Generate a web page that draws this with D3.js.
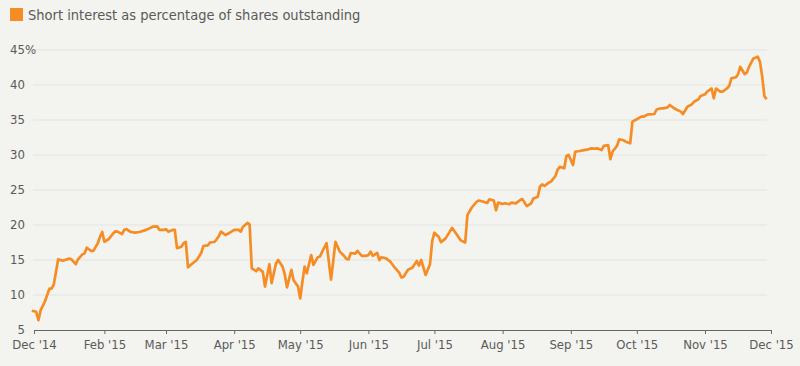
<!DOCTYPE html>
<html lang="en">
<head>
    <meta charset="UTF-8">
    <title>Short interest</title>
    <script src="https://cdn.jsdelivr.net/npm/d3@7"></script>
    <style>
        body { margin: 0; background: #f3f3ef; }
        svg text { font-family: "DejaVu Sans Condensed", "DejaVu Sans", sans-serif; fill: #5a5a5a; }
        .grid line { stroke: #e3e3df; stroke-width: 1px; }
        .x-axis path, .x-axis line { stroke: #666; }
    </style>
</head>
<body>
    <svg id="chart" width="800" height="366"></svg>
    <script>
        var seriesName = "Short interest as percentage of shares outstanding";

        var dates = [
            "2014-12-30","2015-01-01","2015-01-02","2015-01-03","2015-01-05","2015-01-07","2015-01-08","2015-01-09","2015-01-11","2015-01-13","2015-01-14","2015-01-16","2015-01-17","2015-01-19","2015-01-20","2015-01-22","2015-01-23","2015-01-24","2015-01-26","2015-01-27","2015-01-29","2015-01-30","2015-01-31",
            "2015-02-01","2015-02-03","2015-02-05","2015-02-06","2015-02-07","2015-02-09","2015-02-10","2015-02-11","2015-02-13","2015-02-15","2015-02-17","2015-02-20","2015-02-22","2015-02-23","2015-02-25","2015-02-26","2015-02-28",
            "2015-03-01","2015-03-02","2015-03-04","2015-03-05","2015-03-06","2015-03-08","2015-03-09","2015-03-10","2015-03-11","2015-03-13","2015-03-15","2015-03-17","2015-03-18","2015-03-20","2015-03-21","2015-03-23","2015-03-24","2015-03-25","2015-03-26","2015-03-28","2015-03-30",
            "2015-04-01","2015-04-03","2015-04-04","2015-04-05","2015-04-07","2015-04-08","2015-04-09","2015-04-11","2015-04-12","2015-04-14","2015-04-15","2015-04-17","2015-04-18","2015-04-20","2015-04-21","2015-04-23","2015-04-24","2015-04-25","2015-04-27","2015-04-28","2015-04-30",
            "2015-05-01","2015-05-02","2015-05-03","2015-05-04","2015-05-06","2015-05-07","2015-05-09","2015-05-10","2015-05-11","2015-05-13","2015-05-15","2015-05-16","2015-05-17","2015-05-19","2015-05-21","2015-05-22","2015-05-23","2015-05-24","2015-05-26","2015-05-27","2015-05-29","2015-05-31",
            "2015-06-01","2015-06-02","2015-06-03","2015-06-05","2015-06-06","2015-06-07","2015-06-09","2015-06-11","2015-06-13","2015-06-15","2015-06-16","2015-06-17","2015-06-19","2015-06-21","2015-06-23","2015-06-24","2015-06-25","2015-06-27","2015-06-29","2015-06-30",
            "2015-07-01","2015-07-03","2015-07-04","2015-07-06","2015-07-08","2015-07-09","2015-07-11","2015-07-13","2015-07-15","2015-07-16","2015-07-18","2015-07-20","2015-07-21","2015-07-23","2015-07-25","2015-07-26","2015-07-28","2015-07-29","2015-07-30",
            "2015-08-01","2015-08-02","2015-08-04","2015-08-05","2015-08-07","2015-08-09","2015-08-10","2015-08-12","2015-08-14","2015-08-15","2015-08-17","2015-08-18","2015-08-19","2015-08-20","2015-08-22","2015-08-23","2015-08-25","2015-08-26","2015-08-27","2015-08-29","2015-08-30","2015-08-31",
            "2015-09-02","2015-09-03","2015-09-05","2015-09-07","2015-09-09","2015-09-10","2015-09-12","2015-09-13","2015-09-15","2015-09-16","2015-09-18","2015-09-19","2015-09-20","2015-09-22","2015-09-23","2015-09-25","2015-09-26","2015-09-28","2015-09-29",
            "2015-10-01","2015-10-03","2015-10-04","2015-10-06","2015-10-07","2015-10-09","2015-10-10","2015-10-12","2015-10-13","2015-10-15","2015-10-16","2015-10-18","2015-10-19","2015-10-21","2015-10-22","2015-10-24","2015-10-26","2015-10-27","2015-10-29","2015-10-30",
            "2015-11-01","2015-11-02","2015-11-04","2015-11-05","2015-11-06","2015-11-08","2015-11-09","2015-11-11","2015-11-12","2015-11-13","2015-11-15","2015-11-16","2015-11-17","2015-11-19","2015-11-20","2015-11-21","2015-11-23","2015-11-25","2015-11-26","2015-11-27","2015-11-28","2015-11-29"
        ];

        var shortInterest = [
            7.75, 7.6, 6.4, 7.8, 9.1, 10.9, 10.9, 11.5, 15.1, 14.9, 15.0, 15.2, 15.1, 14.4, 15.1, 15.8, 15.95, 16.75, 16.3, 16.3, 17.4, 18.3, 19.0,
            17.6, 18.0, 18.8, 19.1, 19.05, 18.7, 19.3, 19.4, 19.0, 18.9, 19.0, 19.3, 19.6, 19.76, 19.8, 19.3, 19.3,
            19.4, 19.05, 19.3, 19.3, 16.7, 16.9, 17.4, 17.6, 13.96, 14.5, 15.0, 16.0, 17.0, 17.1, 17.5, 17.57, 17.96, 18.4, 19.05, 18.57, 18.9,
            19.3, 19.3, 19.05, 19.76, 20.3, 20.1, 13.8, 13.4, 13.8, 13.3, 11.2, 14.4, 11.7, 14.5, 15.0, 14.05, 12.9, 11.1, 13.6, 12.1, 11.2,
            9.5, 11.9, 14.05, 13.1, 15.7, 14.3, 15.4, 15.5, 16.2, 17.4, 12.2, 14.76, 17.6, 16.2, 15.57, 15.14, 15.1, 16.0, 15.9, 16.3, 15.6, 15.6,
            15.7, 16.2, 15.6, 16.0, 15.0, 15.4, 15.24, 14.76, 13.9, 13.2, 12.5, 12.6, 13.6, 13.9, 14.86, 14.2, 15.0, 12.86, 14.4, 17.7,
            18.9, 18.3, 17.55, 18.05, 19.05, 19.6, 18.7, 17.8, 17.5, 21.4, 22.5, 23.25, 23.5, 23.36, 23.15, 23.67, 23.5, 22.1, 23.2,
            23.0, 23.1, 22.96, 23.2, 23.1, 23.57, 23.7, 22.7, 23.1, 23.8, 24.05, 25.5, 25.8, 25.57, 26.05, 26.2, 27.0, 27.9, 28.3, 28.1, 29.86, 30.0,
            28.57, 30.47, 30.57, 30.7, 30.8, 30.95, 30.9, 30.95, 30.7, 31.3, 31.4, 29.4, 30.5, 31.3, 32.24, 32.1, 31.9, 31.67, 34.76,
            35.1, 35.47, 35.47, 35.8, 35.8, 35.86, 36.5, 36.67, 36.67, 36.8, 37.14, 36.67, 36.5, 36.2, 35.86, 36.9, 37.24, 37.6, 37.95, 38.43,
            38.67, 39.05, 39.5, 38.1, 39.5, 39.05, 39.05, 39.5, 39.86, 40.95, 41.1, 41.5, 42.6, 41.57, 41.76, 42.6, 43.8, 44.05, 43.3, 41.2, 38.4, 37.95
        ];

        var xTicks = ["2014-12-31","2015-02-01","2015-03-01","2015-04-01","2015-05-01","2015-06-01",
                      "2015-07-01","2015-08-01","2015-09-01","2015-10-01","2015-11-01","2015-12-01"];
        var yTicks = [5, 10, 15, 20, 25, 30, 35, 40, 45];

        var orange = "#f58d24";
        var parse = d3.timeParse("%Y-%m-%d");

        var data = dates.map(function(d, i) {
            return { date: parse(d), value: shortInterest[i] };
        });

        var svg = d3.select("#chart");

        var x = d3.scaleTime()
            .domain([parse(xTicks[0]), parse(xTicks[xTicks.length - 1])])
            .range([34, 771]);
        var y = d3.scaleLinear()
            .domain([yTicks[0], yTicks[yTicks.length - 1]])
            .range([330, 50]);

        // legend
        svg.append("rect")
            .attr("x", 10).attr("y", 8)
            .attr("width", 13).attr("height", 13)
            .attr("fill", orange);
        svg.append("text")
            .attr("x", 28).attr("y", 20)
            .attr("font-size", 14.5)
            .text(seriesName);

        // horizontal grid
        svg.append("g")
            .attr("class", "grid")
            .selectAll("line")
            .data(yTicks.slice(1))
            .enter()
            .append("line")
            .attr("x1", 33).attr("x2", 767)
            .attr("y1", function(d) { return y(d); })
            .attr("y2", function(d) { return y(d); });

        // y labels
        var yl = svg.append("g").attr("class", "y-labels");
        yl.selectAll("text")
            .data(yTicks)
            .enter()
            .append("text")
            .attr("x", 25)
            .attr("y", function(d) { return y(d); })
            .attr("dy", "0.32em")
            .attr("text-anchor", "end")
            .attr("font-size", 13)
            .text(function(d) { return d; });
        yl.append("text")
            .attr("x", 25)
            .attr("y", y(yTicks[yTicks.length - 1]))
            .attr("dy", "0.32em")
            .attr("font-size", 13)
            .text("%");

        // x axis
        var xAxis = d3.axisBottom(x)
            .tickValues(xTicks.map(parse))
            .tickFormat(d3.timeFormat("%b '%y"))
            .tickSize(4)
            .tickSizeOuter(0)
            .tickPadding(6);

        var gx = svg.append("g")
            .attr("class", "x-axis")
            .attr("transform", "translate(0,330)")
            .call(xAxis);
        gx.selectAll("text")
            .attr("font-size", 13);
        gx.attr("font-family", null).attr("font-size", null);

        // line
        var line = d3.line()
            .x(function(d) { return x(d.date); })
            .y(function(d) { return y(d.value); });

        svg.append("path")
            .datum(data)
            .attr("fill", "none")
            .attr("stroke", orange)
            .attr("stroke-width", 2.7)
            .attr("stroke-linejoin", "round")
            .attr("d", line);
    </script>
</body>
</html>
